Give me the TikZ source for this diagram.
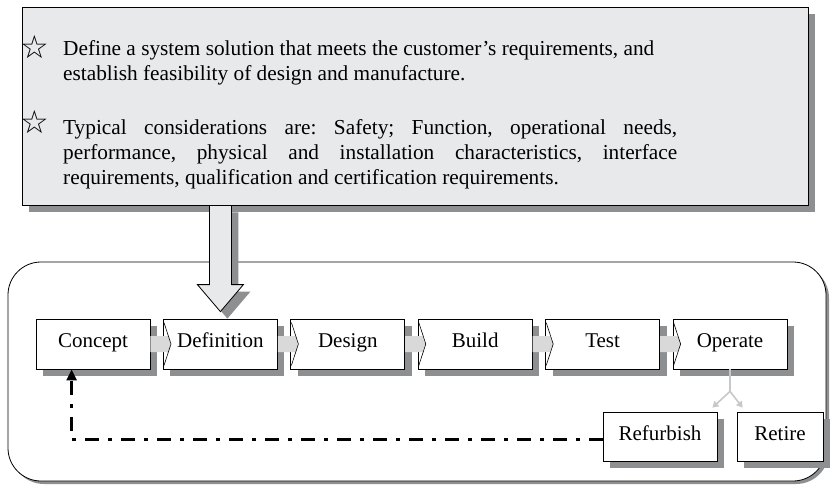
\documentclass[tikz,border=0pt]{standalone}
\usepackage{fontspec}
\setmainfont{Liberation Serif}
\newfontfamily\symfont{DejaVu Sans}
\usetikzlibrary{arrows.meta, positioning, calc, shadows}
\definecolor{panelgray}{HTML}{E8E9EB}
\definecolor{shadowgray}{HTML}{8E8F91}
\definecolor{linkgray}{HTML}{D9D9DA}
\definecolor{branchgray}{HTML}{C8C8C8}
\frenchspacing

\tikzset{
  boxshadow/.style={drop shadow={shadow xshift=7pt, shadow yshift=-7pt, fill=shadowgray, opacity=1}},
  stagebox/.style={draw=black, fill=white, line width=0.8pt, minimum width=114pt, minimum height=50pt, inner sep=0pt, text height=13pt, text depth=6pt, font=\fontsize{21}{24}\selectfont, boxshadow},
  note/.style={font=\fontsize{21.3}{25.3}\selectfont, anchor=north west, inner sep=0pt},
  starmark/.style={font=\symfont\fontsize{32}{32}\selectfont, inner sep=0pt},
  branch/.style={draw=branchgray, line width=1.6pt},
  feedback/.style={line width=2.6pt, dash pattern=on 14pt off 9pt on 4pt off 9pt, -{Triangle[length=11pt, width=10pt]}},
}

\begin{document}
\begin{tikzpicture}[x=1pt, y=-1pt]
    \useasboundingbox (0,0) rectangle (834,488);
    % life-cycle frame
    \draw[line width=0.8pt, fill=white, rounded corners=33pt, drop shadow={shadow xshift=3pt, shadow yshift=-3pt, fill=shadowgray, opacity=1}] (8,262) rectangle (826,481);

    % objectives panel
    \node[draw=black, line width=0.8pt, fill=panelgray, minimum width=786pt, minimum height=198pt, inner sep=0pt, boxshadow] (notes) at (415,106) {};
    \node[starmark] (star1) at (35,47) {☆};
    \node[starmark] (star2) at (35,122) {☆};
    \node[note, align=left] (aim) at (63,40) {Define a system solution that meets the customer’s requirements, and\\establish feasibility of design and manufacture.};
    \node[note, text width=614pt, align=justify] (scope) at (63,119) {Typical considerations are: Safety; Function, operational needs,\linebreak performance, physical and installation characteristics, interface\linebreak requirements, qualification and certification requirements.};

    % stages
    \foreach \i/\name/\lbl in {0/concept/Concept, 1/definition/Definition, 2/design/Design, 3/build/Build, 4/test/Test, 5/operate/Operate} {
        \node[stagebox] (\name) at (93+127.4*\i, 344) {\lbl};
    }
    \foreach \a/\b in {concept/definition, definition/design, design/build, build/test, test/operate} {
        \fill[linkgray] ($(\a.east)+(0,-8)$) -- ($(\b.west)+(5,-8)$) -- ($(\b.west)+(8,0)$) -- ($(\b.west)+(5,8)$) -- ($(\a.east)+(0,8)$) -- cycle;
        \draw[line width=0.6pt] ($(\b.north west)+(1,4)$) -- ($(\b.west)+(8,0)$) -- ($(\b.south west)+(1,-4)$);
    }

    % big arrow from panel to Definition
    \coordinate (drop) at (notes.south -| definition.north);
    \draw[line width=0.8pt, fill=panelgray, boxshadow]
        ($(drop)+(-11,0)$) -- ($(drop)+(11,0)$) -- ($(definition.north)+(11,-34)$) -- ($(definition.north)+(23,-34)$)
        -- ($(definition.north)+(0,-7)$) -- ($(definition.north)+(-23,-34)$) -- ($(definition.north)+(-11,-34)$) -- cycle;

    % end of life
    \node[stagebox, minimum height=49pt] (refurb) at (660,436.5) {Refurbish};
    \node[stagebox, minimum width=86pt, minimum height=49pt] (retire) at (780,436.5) {Retire};
    \coordinate (split) at ($(operate.south)+(0,22)$);
    \draw[branch] (operate.south) -- (split);
    \draw[branch, -{Triangle[length=6pt, width=7pt]}] (split) -- ($(refurb.north east)+(-5,-4)$);
    \draw[branch, -{Triangle[length=6pt, width=7pt]}] (split) -- ($(retire.north west)+(6,-4)$);

    % feedback to Concept
    \draw[feedback] ($(refurb.west)+(0,3)$) -| ($(concept.south west)+(36,0)$);
\end{tikzpicture}
\end{document}
